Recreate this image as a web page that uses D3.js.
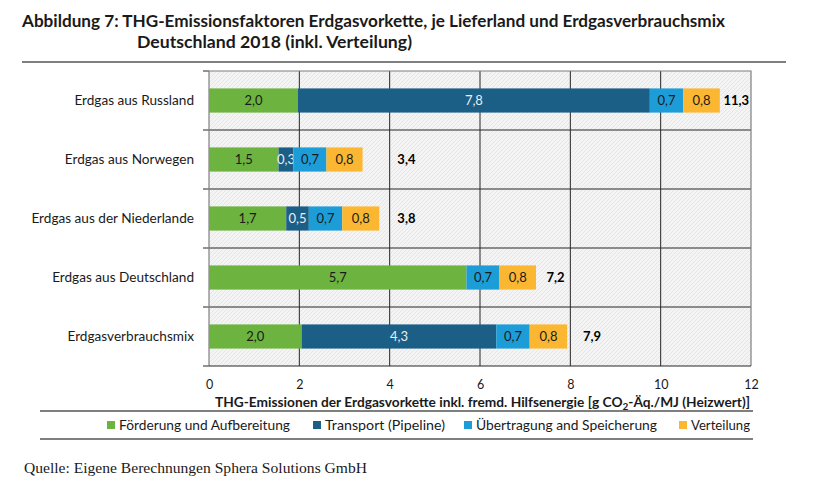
<!DOCTYPE html>
<html lang="de">
<head>
    <meta charset="UTF-8">
    <title>THG-Emissionsfaktoren Erdgasvorkette</title>
    <style>
        body { margin: 0; background: #fff; }
        text { font-family: Lato, "Open Sans", sans-serif; fill: #1a1a1a; }
        .serif { font-family: "Liberation Serif", "DejaVu Serif", serif; }
    </style>
</head>
<body>
    <svg id="chart" width="814" height="499"></svg>

    <script src="https://cdn.jsdelivr.net/npm/d3@7"></script>
    <script>
        // categories (top to bottom)
        var categories = ["Erdgas aus Russland", "Erdgas aus Norwegen", "Erdgas aus der Niederlande",
            "Erdgas aus Deutschland", "Erdgasverbrauchsmix"];

        // series values [g CO2-Äq./MJ]
        var foerderung = [1.97, 1.54, 1.71, 5.70, 2.05];
        var transport = [7.79, 0.33, 0.50, 0.00, 4.31];
        var uebertragung = [0.74, 0.73, 0.74, 0.73, 0.74];
        var verteilung = [0.81, 0.80, 0.82, 0.81, 0.83];

        // invisible helper series in Excel: where the bold total label starts
        var totalLabelAt = [11.39, 4.17, 4.17, 7.47, 8.28];

        var seriesNames = ["Förderung und Aufbereitung", "Transport (Pipeline)",
            "Übertragung and Speicherung", "Verteilung"];
        var seriesColors = ["#6db33f", "#1b5e86", "#1d9dd8", "#fbb732"];
        var xTicks = [0, 2, 4, 6, 8, 10, 12];

        var svg = d3.select("#chart");
        var fmt = function (v) { return d3.format(".1f")(v).replace(".", ","); };

        var margin = { left: 209, right: 751, top: 71, bottom: 366 };

        var x = d3.scaleLinear().domain([0, 12]).range([margin.left, margin.right]);
        var y = d3.scaleBand().domain(categories).range([margin.top, margin.bottom]).padding(0);

        var series = [foerderung, transport, uebertragung, verteilung];
        var rows = categories.map(function (c, i) {
            var r = { cat: c };
            seriesNames.forEach(function (s, j) { r[s] = series[j][i]; });
            return r;
        });
        var stacked = d3.stack().keys(seriesNames)(rows);

        // hatched plot background
        var defs = svg.append("defs");
        var pat = defs.append("pattern")
            .attr("id", "hatch")
            .attr("patternUnits", "userSpaceOnUse")
            .attr("width", 4).attr("height", 4);
        pat.append("rect").attr("width", 4).attr("height", 4).attr("fill", "#f4f4f4");
        pat.append("path")
            .attr("d", "M-1,1 l2,-2 M0,4 l4,-4 M3,5 l2,-2")
            .attr("stroke", "#dedede").attr("stroke-width", 0.7);

        svg.append("rect")
            .attr("x", margin.left).attr("y", margin.top)
            .attr("width", margin.right - margin.left)
            .attr("height", margin.bottom - margin.top)
            .attr("fill", "url(#hatch)");

        // vertical grid
        svg.append("g")
            .selectAll("line")
            .data(xTicks.slice(1, -1))
            .enter().append("line")
            .attr("x1", d => x(d)).attr("x2", d => x(d))
            .attr("y1", margin.top).attr("y2", margin.bottom)
            .attr("stroke", "#262626").attr("stroke-width", 1);

        // horizontal row separators + left tick marks
        var bounds = d3.range(1, categories.length).map(i => margin.top + i * y.step());
        svg.append("g")
            .selectAll("line")
            .data(bounds)
            .enter().append("line")
            .attr("x1", margin.left - 6).attr("x2", margin.right)
            .attr("y1", d => d).attr("y2", d => d)
            .attr("stroke", "#262626").attr("stroke-width", 1);
        svg.append("g")
            .selectAll("line")
            .data([margin.top, margin.bottom])
            .enter().append("line")
            .attr("x1", margin.left - 6).attr("x2", margin.left)
            .attr("y1", d => d).attr("y2", d => d)
            .attr("stroke", "#262626");

        // frame
        svg.append("path")
            .attr("d", "M" + margin.left + "," + margin.top + "H" + margin.right + "V" + margin.bottom)
            .attr("fill", "none").attr("stroke", "#7f7f7f").attr("stroke-width", 1.2);
        svg.append("line")
            .attr("x1", margin.left).attr("x2", margin.left)
            .attr("y1", margin.top).attr("y2", margin.bottom)
            .attr("stroke", "#7f7f7f").attr("stroke-width", 1.2);
        svg.append("line")
            .attr("x1", margin.left).attr("x2", margin.right)
            .attr("y1", margin.bottom).attr("y2", margin.bottom)
            .attr("stroke", "#262626").attr("stroke-width", 1.2);

        // bars
        var barH = y.bandwidth() * 0.41;
        var barOff = (y.bandwidth() - barH) / 2;

        var groups = svg.append("g")
            .selectAll("g")
            .data(stacked)
            .enter().append("g")
            .attr("fill", (d, i) => seriesColors[i]);

        groups.selectAll("rect")
            .data(d => d)
            .enter().append("rect")
            .attr("x", d => x(d[0]))
            .attr("y", d => y(d.data.cat) + barOff)
            .attr("width", d => x(d[1]) - x(d[0]))
            .attr("height", barH);

        // segment labels
        groups.each(function (s, i) {
            d3.select(this).selectAll("text")
                .data(s.filter(d => d[1] - d[0] > 0.05))
                .enter().append("text")
                .attr("x", d => (x(d[0]) + x(d[1])) / 2)
                .attr("y", d => y(d.data.cat) + y.bandwidth() / 2)
                .attr("dy", "0.36em")
                .attr("text-anchor", "middle")
                .style("font-size", "13px")
                .style("fill", i === 1 ? "#e8eef3" : "#1a1a1a")
                .text(d => fmt(d[1] - d[0]));
        });

        // totals
        svg.append("g")
            .selectAll("text")
            .data(categories)
            .enter().append("text")
            .attr("x", (d, i) => x(totalLabelAt[i]))
            .attr("y", d => y(d) + y.bandwidth() / 2)
            .attr("dy", "0.36em")
            .style("font-size", "13px")
            .style("font-weight", "bold")
            .style("fill", "#000")
            .text((d, i) => fmt(d3.sum(series, s => s[i])));

        // category labels
        svg.append("g")
            .selectAll("text")
            .data(categories)
            .enter().append("text")
            .attr("x", 194)
            .attr("y", d => y(d) + y.bandwidth() / 2)
            .attr("dy", "0.36em")
            .attr("text-anchor", "end")
            .style("font-size", "13.6px")
            .text(d => d);

        // x axis labels
        var xAxis = svg.append("g")
            .attr("transform", "translate(0," + margin.bottom + ")")
            .call(d3.axisBottom(x).tickValues(xTicks).tickSize(0).tickPadding(14).tickFormat(d3.format("d")));
        xAxis.select(".domain").remove();
        xAxis.selectAll("text")
            .style("font-family", "Lato, sans-serif")
            .style("font-size", "12.5px")
            .style("fill", "#1a1a1a");

        var axTitle = svg.append("text")
            .attr("x", 215)
            .attr("y", 407)
            .attr("textLength", 535)
            .attr("lengthAdjust", "spacingAndGlyphs")
            .style("font-size", "13px")
            .style("font-weight", "bold");
        axTitle.append("tspan").text("THG-Emissionen  der Erdgasvorkette inkl.  fremd. Hilfsenergie [g CO");
        axTitle.append("tspan").attr("dy", 3).style("font-size", "9.5px").text("2");
        axTitle.append("tspan").attr("dy", -3).text("-Äq./MJ (Heizwert)]");

        // title
        svg.append("text")
            .attr("x", 22).attr("y", 27)
            .attr("textLength", 703).attr("lengthAdjust", "spacingAndGlyphs")
            .style("font-size", "17px").style("font-weight", "bold")
            .text("Abbildung 7: THG-Emissionsfaktoren Erdgasvorkette, je Lieferland und Erdgasverbrauchsmix");
        svg.append("text")
            .attr("x", 137).attr("y", 48)
            .attr("textLength", 275).attr("lengthAdjust", "spacingAndGlyphs")
            .style("font-size", "17px").style("font-weight", "bold")
            .text("Deutschland 2018 (inkl. Verteilung)");

        // rules
        [[22, 786, 62], [40, 753, 411], [40, 753, 439]].forEach(function (r) {
            svg.append("line")
                .attr("x1", r[0]).attr("x2", r[1]).attr("y1", r[2]).attr("y2", r[2])
                .attr("stroke", "#000").attr("stroke-width", 1.2);
        });

        // legend
        var legendX = [107, 313, 464, 679];
        var legendW = [171, 120, 181, 59];
        var legend = svg.append("g")
            .selectAll("g")
            .data(seriesNames)
            .enter().append("g")
            .attr("transform", (d, i) => "translate(" + legendX[i] + ",421)");
        legend.append("rect")
            .attr("width", 8).attr("height", 8)
            .attr("fill", (d, i) => seriesColors[i]);
        legend.append("text")
            .attr("x", 12).attr("y", 4)
            .attr("dy", "0.36em")
            .attr("textLength", (d, i) => legendW[i])
            .attr("lengthAdjust", "spacingAndGlyphs")
            .style("font-size", "13.5px")
            .text(d => d);

        // source
        svg.append("text")
            .attr("class", "serif")
            .attr("x", 24).attr("y", 473)
            .attr("textLength", 343).attr("lengthAdjust", "spacingAndGlyphs")
            .style("font-size", "15.5px")
            .text("Quelle: Eigene Berechnungen Sphera Solutions GmbH");
    </script>
</body>
</html>
